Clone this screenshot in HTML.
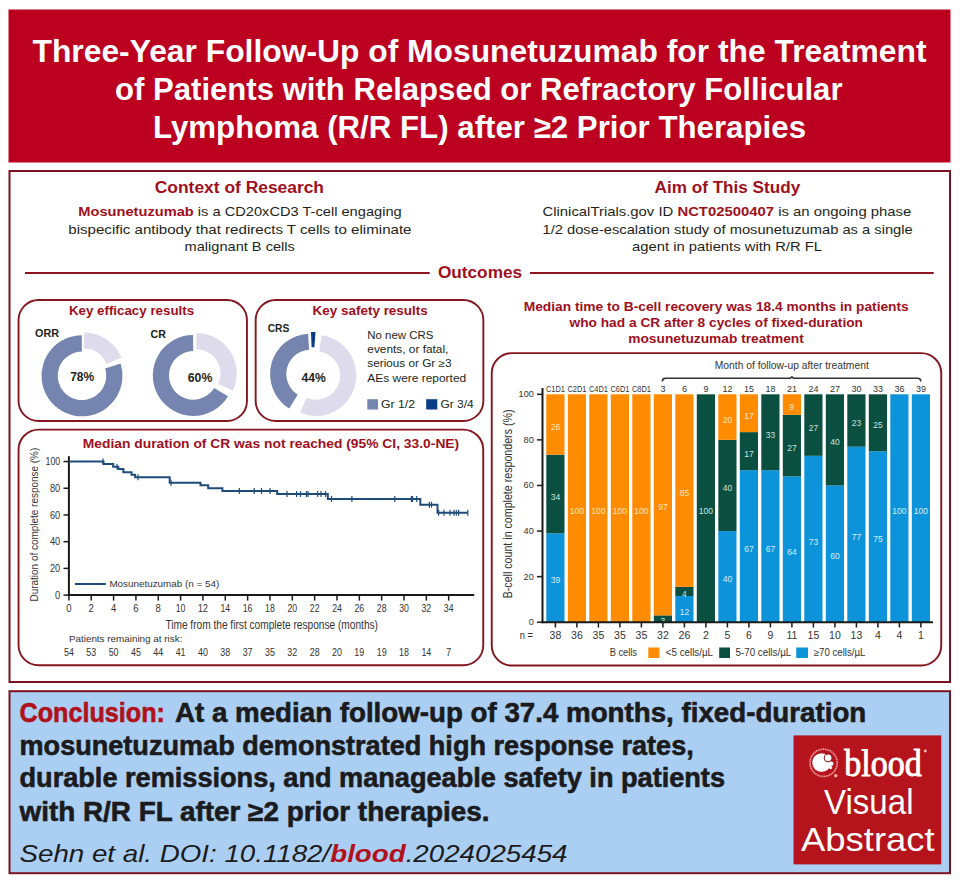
<!DOCTYPE html>
<html><head><meta charset="utf-8"><title>Visual Abstract</title>
<style>html,body{margin:0;padding:0;background:#ffffff;}svg{display:block;}</style></head>
<body><svg width="960" height="884" viewBox="0 0 960 884">
<rect x="8.50" y="9.50" width="942.00" height="153.00" fill="#bb0020"/>
<text x="32.50" y="61.50" font-size="32" font-weight="bold" font-style="normal" font-family="&quot;Liberation Sans&quot;, sans-serif" fill="#ffffff" text-anchor="start" textLength="894.00" lengthAdjust="spacingAndGlyphs">Three-Year Follow-Up of Mosunetuzumab for the Treatment</text>
<text x="115.00" y="99.50" font-size="32" font-weight="bold" font-style="normal" font-family="&quot;Liberation Sans&quot;, sans-serif" fill="#ffffff" text-anchor="start" textLength="727.50" lengthAdjust="spacingAndGlyphs">of Patients with Relapsed or Refractory Follicular</text>
<text x="153.00" y="137.50" font-size="32" font-weight="bold" font-style="normal" font-family="&quot;Liberation Sans&quot;, sans-serif" fill="#ffffff" text-anchor="start" textLength="653.00" lengthAdjust="spacingAndGlyphs">Lymphoma (R/R FL) after ≥2 Prior Therapies</text>
<rect x="9.5" y="171" width="940.5" height="511" fill="#ffffff" stroke="#7a1222" stroke-width="2"/>
<text x="154.80" y="193.30" font-size="16" font-weight="bold" font-style="normal" font-family="&quot;Liberation Sans&quot;, sans-serif" fill="#9e0f1d" text-anchor="start" textLength="169.20" lengthAdjust="spacingAndGlyphs">Context of Research</text>
<text x="78.3" y="215.9" font-size="13.2" font-family="&quot;Liberation Sans&quot;, sans-serif" fill="#231f20" textLength="323.40" lengthAdjust="spacingAndGlyphs"><tspan font-weight="bold" fill="#9e0f1d">Mosunetuzumab</tspan> is a CD20xCD3 T-cell engaging</text>
<text x="68.30" y="233.60" font-size="13.2" font-weight="normal" font-style="normal" font-family="&quot;Liberation Sans&quot;, sans-serif" fill="#231f20" text-anchor="start" textLength="343.20" lengthAdjust="spacingAndGlyphs">bispecific antibody that redirects T cells to eliminate</text>
<text x="184.60" y="251.30" font-size="13.2" font-weight="normal" font-style="normal" font-family="&quot;Liberation Sans&quot;, sans-serif" fill="#231f20" text-anchor="start" textLength="110.20" lengthAdjust="spacingAndGlyphs">malignant B cells</text>
<text x="654.60" y="193.30" font-size="16" font-weight="bold" font-style="normal" font-family="&quot;Liberation Sans&quot;, sans-serif" fill="#9e0f1d" text-anchor="start" textLength="145.60" lengthAdjust="spacingAndGlyphs">Aim of This Study</text>
<text x="542.5" y="215.9" font-size="13.2" font-family="&quot;Liberation Sans&quot;, sans-serif" fill="#231f20" textLength="368.80" lengthAdjust="spacingAndGlyphs">ClinicalTrials.gov ID <tspan font-weight="bold" fill="#9e0f1d">NCT02500407</tspan> is an ongoing phase</text>
<text x="542.50" y="233.60" font-size="13.2" font-weight="normal" font-style="normal" font-family="&quot;Liberation Sans&quot;, sans-serif" fill="#231f20" text-anchor="start" textLength="370.20" lengthAdjust="spacingAndGlyphs">1/2 dose-escalation study of mosunetuzumab as a single</text>
<text x="632.00" y="251.30" font-size="13.2" font-weight="normal" font-style="normal" font-family="&quot;Liberation Sans&quot;, sans-serif" fill="#231f20" text-anchor="start" textLength="190.00" lengthAdjust="spacingAndGlyphs">agent in patients with R/R FL</text>
<rect x="25.00" y="272.00" width="404.70" height="2.00" fill="#8e1420"/>
<rect x="530.00" y="272.00" width="403.70" height="2.00" fill="#8e1420"/>
<text x="437.90" y="277.60" font-size="16.5" font-weight="bold" font-style="normal" font-family="&quot;Liberation Sans&quot;, sans-serif" fill="#9e0f1d" text-anchor="start" textLength="84.20" lengthAdjust="spacingAndGlyphs">Outcomes</text>
<rect x="18.55" y="300.05" width="228.40" height="121.00" rx="20" ry="20" fill="#ffffff" stroke="#84161f" stroke-width="1.9"/>
<rect x="255.65" y="300.05" width="227.70" height="121.00" rx="20" ry="20" fill="#ffffff" stroke="#84161f" stroke-width="1.9"/>
<rect x="18.55" y="429.65" width="464.70" height="235.60" rx="20" ry="20" fill="#ffffff" stroke="#84161f" stroke-width="1.9"/>
<rect x="491.75" y="353.15" width="449.50" height="312.40" rx="20" ry="20" fill="#ffffff" stroke="#84161f" stroke-width="1.9"/>
<text x="68.90" y="315.20" font-size="13.3" font-weight="bold" font-style="normal" font-family="&quot;Liberation Sans&quot;, sans-serif" fill="#9e0f1d" text-anchor="start" textLength="125.20" lengthAdjust="spacingAndGlyphs">Key efficacy results</text>
<text x="35.00" y="337.00" font-size="10.5" font-weight="bold" font-style="normal" font-family="&quot;Liberation Sans&quot;, sans-serif" fill="#231f20" text-anchor="start" textLength="24.00" lengthAdjust="spacingAndGlyphs">ORR</text>
<path d="M84.18,332.40 A40.5,40.5 0 0 1 121.52,357.73 L106.50,363.80 A24.3,24.3 0 0 0 84.09,348.60 Z" fill="#dedcec"/>
<path d="M120.63,363.62 A40.5,40.5 0 1 1 81.79,335.30 L81.87,351.50 A24.3,24.3 0 1 0 105.18,368.49 Z" fill="#7685b0"/>
<text x="70.20" y="381.00" font-size="12" font-weight="bold" font-style="normal" font-family="&quot;Liberation Sans&quot;, sans-serif" fill="#231f20" text-anchor="start" textLength="24.00" lengthAdjust="spacingAndGlyphs">78%</text>
<text x="150.60" y="338.30" font-size="10.5" font-weight="bold" font-style="normal" font-family="&quot;Liberation Sans&quot;, sans-serif" fill="#231f20" text-anchor="start" textLength="15.40" lengthAdjust="spacingAndGlyphs">CR</text>
<path d="M196.47,333.03 A40.5,40.5 0 0 1 232.96,390.64 L218.28,383.80 A24.3,24.3 0 0 0 196.38,349.23 Z" fill="#dedcec"/>
<path d="M228.02,396.26 A40.5,40.5 0 1 1 193.09,334.90 L193.17,351.10 A24.3,24.3 0 1 0 214.13,387.92 Z" fill="#7685b0"/>
<text x="187.80" y="381.80" font-size="12" font-weight="bold" font-style="normal" font-family="&quot;Liberation Sans&quot;, sans-serif" fill="#231f20" text-anchor="start" textLength="24.50" lengthAdjust="spacingAndGlyphs">60%</text>
<text x="312.50" y="315.20" font-size="13.3" font-weight="bold" font-style="normal" font-family="&quot;Liberation Sans&quot;, sans-serif" fill="#9e0f1d" text-anchor="start" textLength="115.30" lengthAdjust="spacingAndGlyphs">Key safety results</text>
<text x="267.70" y="332.40" font-size="10.5" font-weight="bold" font-style="normal" font-family="&quot;Liberation Sans&quot;, sans-serif" fill="#231f20" text-anchor="start" textLength="21.60" lengthAdjust="spacingAndGlyphs">CRS</text>
<path d="M289.13,408.41 A40.5,40.5 0 0 1 308.12,333.64 L309.11,349.81 A24.3,24.3 0 0 0 297.72,394.67 Z" fill="#7685b0"/>
<path d="M321.55,335.36 A40.5,40.5 0 1 1 300.08,412.75 L306.41,397.84 A24.3,24.3 0 1 0 319.29,351.40 Z" fill="#dedcec"/>
<path d="M311,332 L315.5,332 L314.4,347.2 L311.6,347.2 Z" fill="#0a3d86"/>
<text x="301.40" y="381.80" font-size="12" font-weight="bold" font-style="normal" font-family="&quot;Liberation Sans&quot;, sans-serif" fill="#231f20" text-anchor="start" textLength="24.30" lengthAdjust="spacingAndGlyphs">44%</text>
<text x="367.30" y="339.00" font-size="10.5" font-weight="normal" font-style="normal" font-family="&quot;Liberation Sans&quot;, sans-serif" fill="#231f20" text-anchor="start" textLength="66.00" lengthAdjust="spacingAndGlyphs">No new CRS</text>
<text x="367.30" y="353.30" font-size="10.5" font-weight="normal" font-style="normal" font-family="&quot;Liberation Sans&quot;, sans-serif" fill="#231f20" text-anchor="start" textLength="81.10" lengthAdjust="spacingAndGlyphs">events, or fatal,</text>
<text x="367.30" y="367.30" font-size="10.5" font-weight="normal" font-style="normal" font-family="&quot;Liberation Sans&quot;, sans-serif" fill="#231f20" text-anchor="start" textLength="84.20" lengthAdjust="spacingAndGlyphs">serious or Gr ≥3</text>
<text x="367.30" y="381.50" font-size="10.5" font-weight="normal" font-style="normal" font-family="&quot;Liberation Sans&quot;, sans-serif" fill="#231f20" text-anchor="start" textLength="98.90" lengthAdjust="spacingAndGlyphs">AEs were reported</text>
<rect x="367.30" y="399.20" width="10.70" height="10.30" fill="#7685b0"/>
<text x="381.00" y="408.00" font-size="10.5" font-weight="normal" font-style="normal" font-family="&quot;Liberation Sans&quot;, sans-serif" fill="#231f20" text-anchor="start" textLength="34.00" lengthAdjust="spacingAndGlyphs">Gr 1/2</text>
<rect x="426.20" y="399.20" width="11.10" height="10.30" fill="#0a3d86"/>
<text x="440.40" y="408.00" font-size="10.5" font-weight="normal" font-style="normal" font-family="&quot;Liberation Sans&quot;, sans-serif" fill="#231f20" text-anchor="start" textLength="33.30" lengthAdjust="spacingAndGlyphs">Gr 3/4</text>
<text x="82.80" y="448.30" font-size="12.9" font-weight="bold" font-style="normal" font-family="&quot;Liberation Sans&quot;, sans-serif" fill="#9e0f1d" text-anchor="start" textLength="376.40" lengthAdjust="spacingAndGlyphs">Median duration of CR was not reached (95% CI, 33.0-NE)</text>
<line x1="68.9" y1="456.19" x2="68.9" y2="596.10" stroke="#1a1a1a" stroke-width="2"/>
<line x1="67.9" y1="595.1" x2="474.2" y2="595.1" stroke="#1a1a1a" stroke-width="2"/>
<line x1="63.5" y1="595.10" x2="68.9" y2="595.10" stroke="#1a1a1a" stroke-width="1.5"/>
<text x="60.20" y="598.70" font-size="10.4" font-weight="normal" font-style="normal" font-family="&quot;Liberation Sans&quot;, sans-serif" fill="#333333" text-anchor="end" textLength="5.20" lengthAdjust="spacingAndGlyphs">0</text>
<line x1="63.5" y1="568.39" x2="68.9" y2="568.39" stroke="#1a1a1a" stroke-width="1.5"/>
<text x="60.20" y="571.99" font-size="10.4" font-weight="normal" font-style="normal" font-family="&quot;Liberation Sans&quot;, sans-serif" fill="#333333" text-anchor="end" textLength="10.20" lengthAdjust="spacingAndGlyphs">20</text>
<line x1="63.5" y1="541.67" x2="68.9" y2="541.67" stroke="#1a1a1a" stroke-width="1.5"/>
<text x="60.20" y="545.27" font-size="10.4" font-weight="normal" font-style="normal" font-family="&quot;Liberation Sans&quot;, sans-serif" fill="#333333" text-anchor="end" textLength="10.20" lengthAdjust="spacingAndGlyphs">40</text>
<line x1="63.5" y1="514.96" x2="68.9" y2="514.96" stroke="#1a1a1a" stroke-width="1.5"/>
<text x="60.20" y="518.56" font-size="10.4" font-weight="normal" font-style="normal" font-family="&quot;Liberation Sans&quot;, sans-serif" fill="#333333" text-anchor="end" textLength="10.20" lengthAdjust="spacingAndGlyphs">60</text>
<line x1="63.5" y1="488.24" x2="68.9" y2="488.24" stroke="#1a1a1a" stroke-width="1.5"/>
<text x="60.20" y="491.84" font-size="10.4" font-weight="normal" font-style="normal" font-family="&quot;Liberation Sans&quot;, sans-serif" fill="#333333" text-anchor="end" textLength="10.20" lengthAdjust="spacingAndGlyphs">80</text>
<line x1="63.5" y1="461.53" x2="68.9" y2="461.53" stroke="#1a1a1a" stroke-width="1.5"/>
<text x="60.20" y="465.13" font-size="10.4" font-weight="normal" font-style="normal" font-family="&quot;Liberation Sans&quot;, sans-serif" fill="#333333" text-anchor="end" textLength="14.70" lengthAdjust="spacingAndGlyphs">100</text>
<line x1="68.90" y1="595.1" x2="68.90" y2="600.6" stroke="#1a1a1a" stroke-width="1.5"/>
<text x="68.90" y="612.30" font-size="10.8" font-weight="normal" font-style="normal" font-family="&quot;Liberation Sans&quot;, sans-serif" fill="#333333" text-anchor="middle" textLength="5.30" lengthAdjust="spacingAndGlyphs">0</text>
<line x1="91.24" y1="595.1" x2="91.24" y2="600.6" stroke="#1a1a1a" stroke-width="1.5"/>
<text x="91.24" y="612.30" font-size="10.8" font-weight="normal" font-style="normal" font-family="&quot;Liberation Sans&quot;, sans-serif" fill="#333333" text-anchor="middle" textLength="5.30" lengthAdjust="spacingAndGlyphs">2</text>
<line x1="113.58" y1="595.1" x2="113.58" y2="600.6" stroke="#1a1a1a" stroke-width="1.5"/>
<text x="113.58" y="612.30" font-size="10.8" font-weight="normal" font-style="normal" font-family="&quot;Liberation Sans&quot;, sans-serif" fill="#333333" text-anchor="middle" textLength="5.30" lengthAdjust="spacingAndGlyphs">4</text>
<line x1="135.92" y1="595.1" x2="135.92" y2="600.6" stroke="#1a1a1a" stroke-width="1.5"/>
<text x="135.92" y="612.30" font-size="10.8" font-weight="normal" font-style="normal" font-family="&quot;Liberation Sans&quot;, sans-serif" fill="#333333" text-anchor="middle" textLength="5.30" lengthAdjust="spacingAndGlyphs">6</text>
<line x1="158.26" y1="595.1" x2="158.26" y2="600.6" stroke="#1a1a1a" stroke-width="1.5"/>
<text x="158.26" y="612.30" font-size="10.8" font-weight="normal" font-style="normal" font-family="&quot;Liberation Sans&quot;, sans-serif" fill="#333333" text-anchor="middle" textLength="5.30" lengthAdjust="spacingAndGlyphs">8</text>
<line x1="180.60" y1="595.1" x2="180.60" y2="600.6" stroke="#1a1a1a" stroke-width="1.5"/>
<text x="180.60" y="612.30" font-size="10.8" font-weight="normal" font-style="normal" font-family="&quot;Liberation Sans&quot;, sans-serif" fill="#333333" text-anchor="middle" textLength="9.70" lengthAdjust="spacingAndGlyphs">10</text>
<line x1="202.94" y1="595.1" x2="202.94" y2="600.6" stroke="#1a1a1a" stroke-width="1.5"/>
<text x="202.94" y="612.30" font-size="10.8" font-weight="normal" font-style="normal" font-family="&quot;Liberation Sans&quot;, sans-serif" fill="#333333" text-anchor="middle" textLength="9.70" lengthAdjust="spacingAndGlyphs">12</text>
<line x1="225.28" y1="595.1" x2="225.28" y2="600.6" stroke="#1a1a1a" stroke-width="1.5"/>
<text x="225.28" y="612.30" font-size="10.8" font-weight="normal" font-style="normal" font-family="&quot;Liberation Sans&quot;, sans-serif" fill="#333333" text-anchor="middle" textLength="9.70" lengthAdjust="spacingAndGlyphs">14</text>
<line x1="247.62" y1="595.1" x2="247.62" y2="600.6" stroke="#1a1a1a" stroke-width="1.5"/>
<text x="247.62" y="612.30" font-size="10.8" font-weight="normal" font-style="normal" font-family="&quot;Liberation Sans&quot;, sans-serif" fill="#333333" text-anchor="middle" textLength="9.70" lengthAdjust="spacingAndGlyphs">16</text>
<line x1="269.96" y1="595.1" x2="269.96" y2="600.6" stroke="#1a1a1a" stroke-width="1.5"/>
<text x="269.96" y="612.30" font-size="10.8" font-weight="normal" font-style="normal" font-family="&quot;Liberation Sans&quot;, sans-serif" fill="#333333" text-anchor="middle" textLength="9.70" lengthAdjust="spacingAndGlyphs">18</text>
<line x1="292.30" y1="595.1" x2="292.30" y2="600.6" stroke="#1a1a1a" stroke-width="1.5"/>
<text x="292.30" y="612.30" font-size="10.8" font-weight="normal" font-style="normal" font-family="&quot;Liberation Sans&quot;, sans-serif" fill="#333333" text-anchor="middle" textLength="9.70" lengthAdjust="spacingAndGlyphs">20</text>
<line x1="314.64" y1="595.1" x2="314.64" y2="600.6" stroke="#1a1a1a" stroke-width="1.5"/>
<text x="314.64" y="612.30" font-size="10.8" font-weight="normal" font-style="normal" font-family="&quot;Liberation Sans&quot;, sans-serif" fill="#333333" text-anchor="middle" textLength="9.70" lengthAdjust="spacingAndGlyphs">22</text>
<line x1="336.98" y1="595.1" x2="336.98" y2="600.6" stroke="#1a1a1a" stroke-width="1.5"/>
<text x="336.98" y="612.30" font-size="10.8" font-weight="normal" font-style="normal" font-family="&quot;Liberation Sans&quot;, sans-serif" fill="#333333" text-anchor="middle" textLength="9.70" lengthAdjust="spacingAndGlyphs">24</text>
<line x1="359.32" y1="595.1" x2="359.32" y2="600.6" stroke="#1a1a1a" stroke-width="1.5"/>
<text x="359.32" y="612.30" font-size="10.8" font-weight="normal" font-style="normal" font-family="&quot;Liberation Sans&quot;, sans-serif" fill="#333333" text-anchor="middle" textLength="9.70" lengthAdjust="spacingAndGlyphs">26</text>
<line x1="381.66" y1="595.1" x2="381.66" y2="600.6" stroke="#1a1a1a" stroke-width="1.5"/>
<text x="381.66" y="612.30" font-size="10.8" font-weight="normal" font-style="normal" font-family="&quot;Liberation Sans&quot;, sans-serif" fill="#333333" text-anchor="middle" textLength="9.70" lengthAdjust="spacingAndGlyphs">28</text>
<line x1="404.00" y1="595.1" x2="404.00" y2="600.6" stroke="#1a1a1a" stroke-width="1.5"/>
<text x="404.00" y="612.30" font-size="10.8" font-weight="normal" font-style="normal" font-family="&quot;Liberation Sans&quot;, sans-serif" fill="#333333" text-anchor="middle" textLength="9.70" lengthAdjust="spacingAndGlyphs">30</text>
<line x1="426.34" y1="595.1" x2="426.34" y2="600.6" stroke="#1a1a1a" stroke-width="1.5"/>
<text x="426.34" y="612.30" font-size="10.8" font-weight="normal" font-style="normal" font-family="&quot;Liberation Sans&quot;, sans-serif" fill="#333333" text-anchor="middle" textLength="9.70" lengthAdjust="spacingAndGlyphs">32</text>
<line x1="448.68" y1="595.1" x2="448.68" y2="600.6" stroke="#1a1a1a" stroke-width="1.5"/>
<text x="448.68" y="612.30" font-size="10.8" font-weight="normal" font-style="normal" font-family="&quot;Liberation Sans&quot;, sans-serif" fill="#333333" text-anchor="middle" textLength="9.70" lengthAdjust="spacingAndGlyphs">34</text>
<text x="165.40" y="628.70" font-size="12.5" font-weight="normal" font-style="normal" font-family="&quot;Liberation Sans&quot;, sans-serif" fill="#333333" text-anchor="start" textLength="212.60" lengthAdjust="spacingAndGlyphs">Time from the first complete response (months)</text>
<text transform="translate(37.6,601.5) rotate(-90)" x="0" y="0" font-size="11.8" font-family="&quot;Liberation Sans&quot;, sans-serif" fill="#333333" textLength="153.8" lengthAdjust="spacingAndGlyphs">Duration of complete response (%)</text>
<line x1="74.9" y1="584" x2="105.8" y2="584" stroke="#1f4b7a" stroke-width="2"/>
<text x="109.40" y="587.00" font-size="9.5" font-weight="normal" font-style="normal" font-family="&quot;Liberation Sans&quot;, sans-serif" fill="#333333" text-anchor="start" textLength="109.80" lengthAdjust="spacingAndGlyphs">Mosunetuzumab (n = 54)</text>
<text x="68.90" y="642.40" font-size="9.8" font-weight="normal" font-style="normal" font-family="&quot;Liberation Sans&quot;, sans-serif" fill="#333333" text-anchor="start" textLength="113.50" lengthAdjust="spacingAndGlyphs">Patients remaining at risk:</text>
<text x="68.90" y="655.80" font-size="11" font-weight="normal" font-style="normal" font-family="&quot;Liberation Sans&quot;, sans-serif" fill="#333333" text-anchor="middle" textLength="9.90" lengthAdjust="spacingAndGlyphs">54</text>
<text x="91.24" y="655.80" font-size="11" font-weight="normal" font-style="normal" font-family="&quot;Liberation Sans&quot;, sans-serif" fill="#333333" text-anchor="middle" textLength="9.90" lengthAdjust="spacingAndGlyphs">53</text>
<text x="113.58" y="655.80" font-size="11" font-weight="normal" font-style="normal" font-family="&quot;Liberation Sans&quot;, sans-serif" fill="#333333" text-anchor="middle" textLength="9.90" lengthAdjust="spacingAndGlyphs">50</text>
<text x="135.92" y="655.80" font-size="11" font-weight="normal" font-style="normal" font-family="&quot;Liberation Sans&quot;, sans-serif" fill="#333333" text-anchor="middle" textLength="9.90" lengthAdjust="spacingAndGlyphs">45</text>
<text x="158.26" y="655.80" font-size="11" font-weight="normal" font-style="normal" font-family="&quot;Liberation Sans&quot;, sans-serif" fill="#333333" text-anchor="middle" textLength="9.90" lengthAdjust="spacingAndGlyphs">44</text>
<text x="180.60" y="655.80" font-size="11" font-weight="normal" font-style="normal" font-family="&quot;Liberation Sans&quot;, sans-serif" fill="#333333" text-anchor="middle" textLength="9.90" lengthAdjust="spacingAndGlyphs">41</text>
<text x="202.94" y="655.80" font-size="11" font-weight="normal" font-style="normal" font-family="&quot;Liberation Sans&quot;, sans-serif" fill="#333333" text-anchor="middle" textLength="9.90" lengthAdjust="spacingAndGlyphs">40</text>
<text x="225.28" y="655.80" font-size="11" font-weight="normal" font-style="normal" font-family="&quot;Liberation Sans&quot;, sans-serif" fill="#333333" text-anchor="middle" textLength="9.90" lengthAdjust="spacingAndGlyphs">38</text>
<text x="247.62" y="655.80" font-size="11" font-weight="normal" font-style="normal" font-family="&quot;Liberation Sans&quot;, sans-serif" fill="#333333" text-anchor="middle" textLength="9.90" lengthAdjust="spacingAndGlyphs">37</text>
<text x="269.96" y="655.80" font-size="11" font-weight="normal" font-style="normal" font-family="&quot;Liberation Sans&quot;, sans-serif" fill="#333333" text-anchor="middle" textLength="9.90" lengthAdjust="spacingAndGlyphs">35</text>
<text x="292.30" y="655.80" font-size="11" font-weight="normal" font-style="normal" font-family="&quot;Liberation Sans&quot;, sans-serif" fill="#333333" text-anchor="middle" textLength="9.90" lengthAdjust="spacingAndGlyphs">32</text>
<text x="314.64" y="655.80" font-size="11" font-weight="normal" font-style="normal" font-family="&quot;Liberation Sans&quot;, sans-serif" fill="#333333" text-anchor="middle" textLength="9.90" lengthAdjust="spacingAndGlyphs">28</text>
<text x="336.98" y="655.80" font-size="11" font-weight="normal" font-style="normal" font-family="&quot;Liberation Sans&quot;, sans-serif" fill="#333333" text-anchor="middle" textLength="9.90" lengthAdjust="spacingAndGlyphs">20</text>
<text x="359.32" y="655.80" font-size="11" font-weight="normal" font-style="normal" font-family="&quot;Liberation Sans&quot;, sans-serif" fill="#333333" text-anchor="middle" textLength="9.90" lengthAdjust="spacingAndGlyphs">19</text>
<text x="381.66" y="655.80" font-size="11" font-weight="normal" font-style="normal" font-family="&quot;Liberation Sans&quot;, sans-serif" fill="#333333" text-anchor="middle" textLength="9.90" lengthAdjust="spacingAndGlyphs">19</text>
<text x="404.00" y="655.80" font-size="11" font-weight="normal" font-style="normal" font-family="&quot;Liberation Sans&quot;, sans-serif" fill="#333333" text-anchor="middle" textLength="9.90" lengthAdjust="spacingAndGlyphs">18</text>
<text x="426.34" y="655.80" font-size="11" font-weight="normal" font-style="normal" font-family="&quot;Liberation Sans&quot;, sans-serif" fill="#333333" text-anchor="middle" textLength="9.90" lengthAdjust="spacingAndGlyphs">14</text>
<text x="448.68" y="655.80" font-size="11" font-weight="normal" font-style="normal" font-family="&quot;Liberation Sans&quot;, sans-serif" fill="#333333" text-anchor="middle" textLength="5.20" lengthAdjust="spacingAndGlyphs">7</text>
<path d="M68.9,461.53 H103.5 V464.1 H113.2 V466.8 H118.3 V469 H123.4 V472.2 H131.5 V474.8 H135.1 V477.3 H169.7 V482.8 H200.5 V485.3 H208.2 V488.2 H222.4 V490.9 H277.2 V494.1 H327.8 V498.9 H420.3 V504.7 H437.5 V512.8 H467.8" fill="none" stroke="#1f4b7a" stroke-width="2"/>
<line x1="103" y1="458.53" x2="103" y2="464.53" stroke="#1f4b7a" stroke-width="1.2"/>
<line x1="117" y1="463.8" x2="117" y2="469.8" stroke="#1f4b7a" stroke-width="1.2"/>
<line x1="138" y1="474.3" x2="138" y2="480.3" stroke="#1f4b7a" stroke-width="1.2"/>
<line x1="171" y1="479.8" x2="171" y2="485.8" stroke="#1f4b7a" stroke-width="1.2"/>
<line x1="239.3" y1="487.9" x2="239.3" y2="493.9" stroke="#1f4b7a" stroke-width="1.2"/>
<line x1="254.2" y1="487.9" x2="254.2" y2="493.9" stroke="#1f4b7a" stroke-width="1.2"/>
<line x1="261.5" y1="487.9" x2="261.5" y2="493.9" stroke="#1f4b7a" stroke-width="1.2"/>
<line x1="270" y1="487.9" x2="270" y2="493.9" stroke="#1f4b7a" stroke-width="1.2"/>
<line x1="287" y1="491.1" x2="287" y2="497.1" stroke="#1f4b7a" stroke-width="1.2"/>
<line x1="296.6" y1="491.1" x2="296.6" y2="497.1" stroke="#1f4b7a" stroke-width="1.2"/>
<line x1="300.5" y1="491.1" x2="300.5" y2="497.1" stroke="#1f4b7a" stroke-width="1.2"/>
<line x1="306.5" y1="491.1" x2="306.5" y2="497.1" stroke="#1f4b7a" stroke-width="1.2"/>
<line x1="308" y1="491.1" x2="308" y2="497.1" stroke="#1f4b7a" stroke-width="1.2"/>
<line x1="317.7" y1="491.1" x2="317.7" y2="497.1" stroke="#1f4b7a" stroke-width="1.2"/>
<line x1="321" y1="491.1" x2="321" y2="497.1" stroke="#1f4b7a" stroke-width="1.2"/>
<line x1="325.5" y1="491.1" x2="325.5" y2="497.1" stroke="#1f4b7a" stroke-width="1.2"/>
<line x1="331.5" y1="495.9" x2="331.5" y2="501.9" stroke="#1f4b7a" stroke-width="1.2"/>
<line x1="351.9" y1="495.9" x2="351.9" y2="501.9" stroke="#1f4b7a" stroke-width="1.2"/>
<line x1="394.8" y1="495.9" x2="394.8" y2="501.9" stroke="#1f4b7a" stroke-width="1.2"/>
<line x1="411.4" y1="495.9" x2="411.4" y2="501.9" stroke="#1f4b7a" stroke-width="1.2"/>
<line x1="412.5" y1="495.9" x2="412.5" y2="501.9" stroke="#1f4b7a" stroke-width="1.2"/>
<line x1="416.7" y1="495.9" x2="416.7" y2="501.9" stroke="#1f4b7a" stroke-width="1.2"/>
<line x1="429.4" y1="501.7" x2="429.4" y2="507.7" stroke="#1f4b7a" stroke-width="1.2"/>
<line x1="431.5" y1="501.7" x2="431.5" y2="507.7" stroke="#1f4b7a" stroke-width="1.2"/>
<line x1="438.6" y1="509.79999999999995" x2="438.6" y2="515.8" stroke="#1f4b7a" stroke-width="1.2"/>
<line x1="443.9" y1="509.79999999999995" x2="443.9" y2="515.8" stroke="#1f4b7a" stroke-width="1.2"/>
<line x1="450" y1="509.79999999999995" x2="450" y2="515.8" stroke="#1f4b7a" stroke-width="1.2"/>
<line x1="453.9" y1="509.79999999999995" x2="453.9" y2="515.8" stroke="#1f4b7a" stroke-width="1.2"/>
<line x1="456.3" y1="509.79999999999995" x2="456.3" y2="515.8" stroke="#1f4b7a" stroke-width="1.2"/>
<line x1="458.6" y1="509.79999999999995" x2="458.6" y2="515.8" stroke="#1f4b7a" stroke-width="1.2"/>
<line x1="467.8" y1="509.79999999999995" x2="467.8" y2="515.8" stroke="#1f4b7a" stroke-width="1.2"/>
<text x="523.75" y="310.50" font-size="13.4" font-weight="bold" font-style="normal" font-family="&quot;Liberation Sans&quot;, sans-serif" fill="#9e0f1d" text-anchor="start" textLength="385.00" lengthAdjust="spacingAndGlyphs">Median time to B-cell recovery was 18.4 months in patients</text>
<text x="569.50" y="327.00" font-size="13.4" font-weight="bold" font-style="normal" font-family="&quot;Liberation Sans&quot;, sans-serif" fill="#9e0f1d" text-anchor="start" textLength="293.50" lengthAdjust="spacingAndGlyphs">who had a CR after 8 cycles of fixed-duration</text>
<text x="628.25" y="343.25" font-size="13.4" font-weight="bold" font-style="normal" font-family="&quot;Liberation Sans&quot;, sans-serif" fill="#9e0f1d" text-anchor="start" textLength="175.50" lengthAdjust="spacingAndGlyphs">mosunetuzumab treatment</text>
<path d="M662.3,381.5 Q662.3,378.2 665.5,378.2 H790 L791.9,377 L793.8,378.2 H917.5 Q920.8,378.2 920.8,381.5" fill="none" stroke="#333333" stroke-width="1.6"/>
<text x="714.75" y="369.00" font-size="10.6" font-weight="normal" font-style="normal" font-family="&quot;Liberation Sans&quot;, sans-serif" fill="#333333" text-anchor="start" textLength="154.00" lengthAdjust="spacingAndGlyphs">Month of follow-up after treatment</text>
<rect x="546.30" y="533.32" width="18.20" height="88.88" fill="#0d93d9"/>
<rect x="546.30" y="454.69" width="18.20" height="78.63" fill="#0a4f40"/>
<rect x="546.30" y="394.30" width="18.20" height="60.39" fill="#ff8b00"/>
<text x="555.40" y="583.26" font-size="8.5" font-weight="normal" font-style="normal" font-family="&quot;Liberation Sans&quot;, sans-serif" fill="#d6eefa" text-anchor="middle">39</text>
<text x="555.40" y="499.51" font-size="8.5" font-weight="normal" font-style="normal" font-family="&quot;Liberation Sans&quot;, sans-serif" fill="#cfe3dc" text-anchor="middle">34</text>
<text x="555.40" y="430.00" font-size="8.5" font-weight="normal" font-style="normal" font-family="&quot;Liberation Sans&quot;, sans-serif" fill="#ffe6c4" text-anchor="middle">26</text>
<text x="555.40" y="391.80" font-size="9" font-weight="normal" font-style="normal" font-family="&quot;Liberation Sans&quot;, sans-serif" fill="#333333" text-anchor="middle" textLength="19.00" lengthAdjust="spacingAndGlyphs">C1D1</text>
<line x1="555.40" y1="622.2" x2="555.40" y2="627.5" stroke="#1a1a1a" stroke-width="1.5"/>
<text x="555.40" y="639.30" font-size="10.5" font-weight="normal" font-style="normal" font-family="&quot;Liberation Sans&quot;, sans-serif" fill="#333333" text-anchor="middle">38</text>
<rect x="567.80" y="394.30" width="18.20" height="227.90" fill="#ff8b00"/>
<text x="576.90" y="513.75" font-size="8.5" font-weight="normal" font-style="normal" font-family="&quot;Liberation Sans&quot;, sans-serif" fill="#ffe6c4" text-anchor="middle">100</text>
<text x="576.90" y="391.80" font-size="9" font-weight="normal" font-style="normal" font-family="&quot;Liberation Sans&quot;, sans-serif" fill="#333333" text-anchor="middle" textLength="19.00" lengthAdjust="spacingAndGlyphs">C2D1</text>
<line x1="576.90" y1="622.2" x2="576.90" y2="627.5" stroke="#1a1a1a" stroke-width="1.5"/>
<text x="576.90" y="639.30" font-size="10.5" font-weight="normal" font-style="normal" font-family="&quot;Liberation Sans&quot;, sans-serif" fill="#333333" text-anchor="middle">36</text>
<rect x="589.30" y="394.30" width="18.20" height="227.90" fill="#ff8b00"/>
<text x="598.40" y="513.75" font-size="8.5" font-weight="normal" font-style="normal" font-family="&quot;Liberation Sans&quot;, sans-serif" fill="#ffe6c4" text-anchor="middle">100</text>
<text x="598.40" y="391.80" font-size="9" font-weight="normal" font-style="normal" font-family="&quot;Liberation Sans&quot;, sans-serif" fill="#333333" text-anchor="middle" textLength="19.00" lengthAdjust="spacingAndGlyphs">C4D1</text>
<line x1="598.40" y1="622.2" x2="598.40" y2="627.5" stroke="#1a1a1a" stroke-width="1.5"/>
<text x="598.40" y="639.30" font-size="10.5" font-weight="normal" font-style="normal" font-family="&quot;Liberation Sans&quot;, sans-serif" fill="#333333" text-anchor="middle">35</text>
<rect x="610.80" y="394.30" width="18.20" height="227.90" fill="#ff8b00"/>
<text x="619.90" y="513.75" font-size="8.5" font-weight="normal" font-style="normal" font-family="&quot;Liberation Sans&quot;, sans-serif" fill="#ffe6c4" text-anchor="middle">100</text>
<text x="619.90" y="391.80" font-size="9" font-weight="normal" font-style="normal" font-family="&quot;Liberation Sans&quot;, sans-serif" fill="#333333" text-anchor="middle" textLength="19.00" lengthAdjust="spacingAndGlyphs">C6D1</text>
<line x1="619.90" y1="622.2" x2="619.90" y2="627.5" stroke="#1a1a1a" stroke-width="1.5"/>
<text x="619.90" y="639.30" font-size="10.5" font-weight="normal" font-style="normal" font-family="&quot;Liberation Sans&quot;, sans-serif" fill="#333333" text-anchor="middle">35</text>
<rect x="632.30" y="394.30" width="18.20" height="227.90" fill="#ff8b00"/>
<text x="641.40" y="513.75" font-size="8.5" font-weight="normal" font-style="normal" font-family="&quot;Liberation Sans&quot;, sans-serif" fill="#ffe6c4" text-anchor="middle">100</text>
<text x="641.40" y="391.80" font-size="9" font-weight="normal" font-style="normal" font-family="&quot;Liberation Sans&quot;, sans-serif" fill="#333333" text-anchor="middle" textLength="19.00" lengthAdjust="spacingAndGlyphs">C8D1</text>
<line x1="641.40" y1="622.2" x2="641.40" y2="627.5" stroke="#1a1a1a" stroke-width="1.5"/>
<text x="641.40" y="639.30" font-size="10.5" font-weight="normal" font-style="normal" font-family="&quot;Liberation Sans&quot;, sans-serif" fill="#333333" text-anchor="middle">35</text>
<rect x="653.80" y="615.36" width="18.20" height="6.84" fill="#0a4f40"/>
<rect x="653.80" y="394.30" width="18.20" height="221.06" fill="#ff8b00"/>
<text x="662.90" y="624.28" font-size="8.5" font-weight="normal" font-style="normal" font-family="&quot;Liberation Sans&quot;, sans-serif" fill="#cfe3dc" text-anchor="middle">3</text>
<text x="662.90" y="510.33" font-size="8.5" font-weight="normal" font-style="normal" font-family="&quot;Liberation Sans&quot;, sans-serif" fill="#ffe6c4" text-anchor="middle">97</text>
<text x="662.90" y="391.80" font-size="9" font-weight="normal" font-style="normal" font-family="&quot;Liberation Sans&quot;, sans-serif" fill="#333333" text-anchor="middle">3</text>
<line x1="662.90" y1="622.2" x2="662.90" y2="627.5" stroke="#1a1a1a" stroke-width="1.5"/>
<text x="662.90" y="639.30" font-size="10.5" font-weight="normal" font-style="normal" font-family="&quot;Liberation Sans&quot;, sans-serif" fill="#333333" text-anchor="middle">32</text>
<rect x="675.30" y="595.99" width="18.20" height="26.21" fill="#0d93d9"/>
<rect x="675.30" y="586.88" width="18.20" height="9.12" fill="#0a4f40"/>
<rect x="675.30" y="394.30" width="18.20" height="192.58" fill="#ff8b00"/>
<text x="684.40" y="614.60" font-size="8.5" font-weight="normal" font-style="normal" font-family="&quot;Liberation Sans&quot;, sans-serif" fill="#d6eefa" text-anchor="middle">12</text>
<text x="684.40" y="596.93" font-size="8.5" font-weight="normal" font-style="normal" font-family="&quot;Liberation Sans&quot;, sans-serif" fill="#cfe3dc" text-anchor="middle">4</text>
<text x="684.40" y="496.09" font-size="8.5" font-weight="normal" font-style="normal" font-family="&quot;Liberation Sans&quot;, sans-serif" fill="#ffe6c4" text-anchor="middle">85</text>
<text x="684.40" y="391.80" font-size="9" font-weight="normal" font-style="normal" font-family="&quot;Liberation Sans&quot;, sans-serif" fill="#333333" text-anchor="middle">6</text>
<line x1="684.40" y1="622.2" x2="684.40" y2="627.5" stroke="#1a1a1a" stroke-width="1.5"/>
<text x="684.40" y="639.30" font-size="10.5" font-weight="normal" font-style="normal" font-family="&quot;Liberation Sans&quot;, sans-serif" fill="#333333" text-anchor="middle">26</text>
<rect x="696.80" y="394.30" width="18.20" height="227.90" fill="#0a4f40"/>
<text x="705.90" y="513.75" font-size="8.5" font-weight="normal" font-style="normal" font-family="&quot;Liberation Sans&quot;, sans-serif" fill="#cfe3dc" text-anchor="middle">100</text>
<text x="705.90" y="391.80" font-size="9" font-weight="normal" font-style="normal" font-family="&quot;Liberation Sans&quot;, sans-serif" fill="#333333" text-anchor="middle">9</text>
<line x1="705.90" y1="622.2" x2="705.90" y2="627.5" stroke="#1a1a1a" stroke-width="1.5"/>
<text x="705.90" y="639.30" font-size="10.5" font-weight="normal" font-style="normal" font-family="&quot;Liberation Sans&quot;, sans-serif" fill="#333333" text-anchor="middle">2</text>
<rect x="718.30" y="531.04" width="18.20" height="91.16" fill="#0d93d9"/>
<rect x="718.30" y="439.88" width="18.20" height="91.16" fill="#0a4f40"/>
<rect x="718.30" y="394.30" width="18.20" height="45.58" fill="#ff8b00"/>
<text x="727.40" y="582.12" font-size="8.5" font-weight="normal" font-style="normal" font-family="&quot;Liberation Sans&quot;, sans-serif" fill="#d6eefa" text-anchor="middle">40</text>
<text x="727.40" y="490.96" font-size="8.5" font-weight="normal" font-style="normal" font-family="&quot;Liberation Sans&quot;, sans-serif" fill="#cfe3dc" text-anchor="middle">40</text>
<text x="727.40" y="422.59" font-size="8.5" font-weight="normal" font-style="normal" font-family="&quot;Liberation Sans&quot;, sans-serif" fill="#ffe6c4" text-anchor="middle">20</text>
<text x="727.40" y="391.80" font-size="9" font-weight="normal" font-style="normal" font-family="&quot;Liberation Sans&quot;, sans-serif" fill="#333333" text-anchor="middle">12</text>
<line x1="727.40" y1="622.2" x2="727.40" y2="627.5" stroke="#1a1a1a" stroke-width="1.5"/>
<text x="727.40" y="639.30" font-size="10.5" font-weight="normal" font-style="normal" font-family="&quot;Liberation Sans&quot;, sans-serif" fill="#333333" text-anchor="middle">5</text>
<rect x="739.80" y="470.19" width="18.20" height="152.01" fill="#0d93d9"/>
<rect x="739.80" y="432.13" width="18.20" height="38.06" fill="#0a4f40"/>
<rect x="739.80" y="394.30" width="18.20" height="37.83" fill="#ff8b00"/>
<text x="748.90" y="551.70" font-size="8.5" font-weight="normal" font-style="normal" font-family="&quot;Liberation Sans&quot;, sans-serif" fill="#d6eefa" text-anchor="middle">67</text>
<text x="748.90" y="456.66" font-size="8.5" font-weight="normal" font-style="normal" font-family="&quot;Liberation Sans&quot;, sans-serif" fill="#cfe3dc" text-anchor="middle">17</text>
<text x="748.90" y="418.72" font-size="8.5" font-weight="normal" font-style="normal" font-family="&quot;Liberation Sans&quot;, sans-serif" fill="#ffe6c4" text-anchor="middle">17</text>
<text x="748.90" y="391.80" font-size="9" font-weight="normal" font-style="normal" font-family="&quot;Liberation Sans&quot;, sans-serif" fill="#333333" text-anchor="middle">15</text>
<line x1="748.90" y1="622.2" x2="748.90" y2="627.5" stroke="#1a1a1a" stroke-width="1.5"/>
<text x="748.90" y="639.30" font-size="10.5" font-weight="normal" font-style="normal" font-family="&quot;Liberation Sans&quot;, sans-serif" fill="#333333" text-anchor="middle">6</text>
<rect x="761.30" y="470.19" width="18.20" height="152.01" fill="#0d93d9"/>
<rect x="761.30" y="394.30" width="18.20" height="75.89" fill="#0a4f40"/>
<text x="770.40" y="551.70" font-size="8.5" font-weight="normal" font-style="normal" font-family="&quot;Liberation Sans&quot;, sans-serif" fill="#d6eefa" text-anchor="middle">67</text>
<text x="770.40" y="437.75" font-size="8.5" font-weight="normal" font-style="normal" font-family="&quot;Liberation Sans&quot;, sans-serif" fill="#cfe3dc" text-anchor="middle">33</text>
<text x="770.40" y="391.80" font-size="9" font-weight="normal" font-style="normal" font-family="&quot;Liberation Sans&quot;, sans-serif" fill="#333333" text-anchor="middle">18</text>
<line x1="770.40" y1="622.2" x2="770.40" y2="627.5" stroke="#1a1a1a" stroke-width="1.5"/>
<text x="770.40" y="639.30" font-size="10.5" font-weight="normal" font-style="normal" font-family="&quot;Liberation Sans&quot;, sans-serif" fill="#333333" text-anchor="middle">9</text>
<rect x="782.80" y="476.34" width="18.20" height="145.86" fill="#0d93d9"/>
<rect x="782.80" y="414.81" width="18.20" height="61.53" fill="#0a4f40"/>
<rect x="782.80" y="394.30" width="18.20" height="20.51" fill="#ff8b00"/>
<text x="791.90" y="554.77" font-size="8.5" font-weight="normal" font-style="normal" font-family="&quot;Liberation Sans&quot;, sans-serif" fill="#d6eefa" text-anchor="middle">64</text>
<text x="791.90" y="451.08" font-size="8.5" font-weight="normal" font-style="normal" font-family="&quot;Liberation Sans&quot;, sans-serif" fill="#cfe3dc" text-anchor="middle">27</text>
<text x="791.90" y="410.06" font-size="8.5" font-weight="normal" font-style="normal" font-family="&quot;Liberation Sans&quot;, sans-serif" fill="#ffe6c4" text-anchor="middle">9</text>
<text x="791.90" y="391.80" font-size="9" font-weight="normal" font-style="normal" font-family="&quot;Liberation Sans&quot;, sans-serif" fill="#333333" text-anchor="middle">21</text>
<line x1="791.90" y1="622.2" x2="791.90" y2="627.5" stroke="#1a1a1a" stroke-width="1.5"/>
<text x="791.90" y="639.30" font-size="10.5" font-weight="normal" font-style="normal" font-family="&quot;Liberation Sans&quot;, sans-serif" fill="#333333" text-anchor="middle">11</text>
<rect x="804.30" y="455.83" width="18.20" height="166.37" fill="#0d93d9"/>
<rect x="804.30" y="394.30" width="18.20" height="61.53" fill="#0a4f40"/>
<text x="813.40" y="544.52" font-size="8.5" font-weight="normal" font-style="normal" font-family="&quot;Liberation Sans&quot;, sans-serif" fill="#d6eefa" text-anchor="middle">73</text>
<text x="813.40" y="430.57" font-size="8.5" font-weight="normal" font-style="normal" font-family="&quot;Liberation Sans&quot;, sans-serif" fill="#cfe3dc" text-anchor="middle">27</text>
<text x="813.40" y="391.80" font-size="9" font-weight="normal" font-style="normal" font-family="&quot;Liberation Sans&quot;, sans-serif" fill="#333333" text-anchor="middle">24</text>
<line x1="813.40" y1="622.2" x2="813.40" y2="627.5" stroke="#1a1a1a" stroke-width="1.5"/>
<text x="813.40" y="639.30" font-size="10.5" font-weight="normal" font-style="normal" font-family="&quot;Liberation Sans&quot;, sans-serif" fill="#333333" text-anchor="middle">15</text>
<rect x="825.80" y="485.46" width="18.20" height="136.74" fill="#0d93d9"/>
<rect x="825.80" y="394.30" width="18.20" height="91.16" fill="#0a4f40"/>
<text x="834.90" y="559.33" font-size="8.5" font-weight="normal" font-style="normal" font-family="&quot;Liberation Sans&quot;, sans-serif" fill="#d6eefa" text-anchor="middle">60</text>
<text x="834.90" y="445.38" font-size="8.5" font-weight="normal" font-style="normal" font-family="&quot;Liberation Sans&quot;, sans-serif" fill="#cfe3dc" text-anchor="middle">40</text>
<text x="834.90" y="391.80" font-size="9" font-weight="normal" font-style="normal" font-family="&quot;Liberation Sans&quot;, sans-serif" fill="#333333" text-anchor="middle">27</text>
<line x1="834.90" y1="622.2" x2="834.90" y2="627.5" stroke="#1a1a1a" stroke-width="1.5"/>
<text x="834.90" y="639.30" font-size="10.5" font-weight="normal" font-style="normal" font-family="&quot;Liberation Sans&quot;, sans-serif" fill="#333333" text-anchor="middle">10</text>
<rect x="847.30" y="446.72" width="18.20" height="175.48" fill="#0d93d9"/>
<rect x="847.30" y="394.30" width="18.20" height="52.42" fill="#0a4f40"/>
<text x="856.40" y="539.96" font-size="8.5" font-weight="normal" font-style="normal" font-family="&quot;Liberation Sans&quot;, sans-serif" fill="#d6eefa" text-anchor="middle">77</text>
<text x="856.40" y="426.01" font-size="8.5" font-weight="normal" font-style="normal" font-family="&quot;Liberation Sans&quot;, sans-serif" fill="#cfe3dc" text-anchor="middle">23</text>
<text x="856.40" y="391.80" font-size="9" font-weight="normal" font-style="normal" font-family="&quot;Liberation Sans&quot;, sans-serif" fill="#333333" text-anchor="middle">30</text>
<line x1="856.40" y1="622.2" x2="856.40" y2="627.5" stroke="#1a1a1a" stroke-width="1.5"/>
<text x="856.40" y="639.30" font-size="10.5" font-weight="normal" font-style="normal" font-family="&quot;Liberation Sans&quot;, sans-serif" fill="#333333" text-anchor="middle">13</text>
<rect x="868.80" y="451.28" width="18.20" height="170.92" fill="#0d93d9"/>
<rect x="868.80" y="394.30" width="18.20" height="56.97" fill="#0a4f40"/>
<text x="877.90" y="542.24" font-size="8.5" font-weight="normal" font-style="normal" font-family="&quot;Liberation Sans&quot;, sans-serif" fill="#d6eefa" text-anchor="middle">75</text>
<text x="877.90" y="428.29" font-size="8.5" font-weight="normal" font-style="normal" font-family="&quot;Liberation Sans&quot;, sans-serif" fill="#cfe3dc" text-anchor="middle">25</text>
<text x="877.90" y="391.80" font-size="9" font-weight="normal" font-style="normal" font-family="&quot;Liberation Sans&quot;, sans-serif" fill="#333333" text-anchor="middle">33</text>
<line x1="877.90" y1="622.2" x2="877.90" y2="627.5" stroke="#1a1a1a" stroke-width="1.5"/>
<text x="877.90" y="639.30" font-size="10.5" font-weight="normal" font-style="normal" font-family="&quot;Liberation Sans&quot;, sans-serif" fill="#333333" text-anchor="middle">4</text>
<rect x="890.30" y="394.30" width="18.20" height="227.90" fill="#0d93d9"/>
<text x="899.40" y="513.75" font-size="8.5" font-weight="normal" font-style="normal" font-family="&quot;Liberation Sans&quot;, sans-serif" fill="#d6eefa" text-anchor="middle">100</text>
<text x="899.40" y="391.80" font-size="9" font-weight="normal" font-style="normal" font-family="&quot;Liberation Sans&quot;, sans-serif" fill="#333333" text-anchor="middle">36</text>
<line x1="899.40" y1="622.2" x2="899.40" y2="627.5" stroke="#1a1a1a" stroke-width="1.5"/>
<text x="899.40" y="639.30" font-size="10.5" font-weight="normal" font-style="normal" font-family="&quot;Liberation Sans&quot;, sans-serif" fill="#333333" text-anchor="middle">4</text>
<rect x="911.80" y="394.30" width="18.20" height="227.90" fill="#0d93d9"/>
<text x="920.90" y="513.75" font-size="8.5" font-weight="normal" font-style="normal" font-family="&quot;Liberation Sans&quot;, sans-serif" fill="#d6eefa" text-anchor="middle">100</text>
<text x="920.90" y="391.80" font-size="9" font-weight="normal" font-style="normal" font-family="&quot;Liberation Sans&quot;, sans-serif" fill="#333333" text-anchor="middle">39</text>
<line x1="920.90" y1="622.2" x2="920.90" y2="627.5" stroke="#1a1a1a" stroke-width="1.5"/>
<text x="920.90" y="639.30" font-size="10.5" font-weight="normal" font-style="normal" font-family="&quot;Liberation Sans&quot;, sans-serif" fill="#333333" text-anchor="middle">1</text>
<line x1="542.5" y1="388" x2="542.5" y2="623.2" stroke="#1a1a1a" stroke-width="2"/>
<line x1="541.5" y1="622.2" x2="933" y2="622.2" stroke="#1a1a1a" stroke-width="2"/>
<line x1="537" y1="622.20" x2="542.5" y2="622.20" stroke="#1a1a1a" stroke-width="1.5"/>
<text x="533.80" y="625.20" font-size="9.6" font-weight="normal" font-style="normal" font-family="&quot;Liberation Sans&quot;, sans-serif" fill="#333333" text-anchor="end" textLength="5.10" lengthAdjust="spacingAndGlyphs">0</text>
<line x1="537" y1="576.62" x2="542.5" y2="576.62" stroke="#1a1a1a" stroke-width="1.5"/>
<text x="533.80" y="579.62" font-size="9.6" font-weight="normal" font-style="normal" font-family="&quot;Liberation Sans&quot;, sans-serif" fill="#333333" text-anchor="end" textLength="10.20" lengthAdjust="spacingAndGlyphs">20</text>
<line x1="537" y1="531.04" x2="542.5" y2="531.04" stroke="#1a1a1a" stroke-width="1.5"/>
<text x="533.80" y="534.04" font-size="9.6" font-weight="normal" font-style="normal" font-family="&quot;Liberation Sans&quot;, sans-serif" fill="#333333" text-anchor="end" textLength="10.20" lengthAdjust="spacingAndGlyphs">40</text>
<line x1="537" y1="485.46" x2="542.5" y2="485.46" stroke="#1a1a1a" stroke-width="1.5"/>
<text x="533.80" y="488.46" font-size="9.6" font-weight="normal" font-style="normal" font-family="&quot;Liberation Sans&quot;, sans-serif" fill="#333333" text-anchor="end" textLength="10.20" lengthAdjust="spacingAndGlyphs">60</text>
<line x1="537" y1="439.88" x2="542.5" y2="439.88" stroke="#1a1a1a" stroke-width="1.5"/>
<text x="533.80" y="442.88" font-size="9.6" font-weight="normal" font-style="normal" font-family="&quot;Liberation Sans&quot;, sans-serif" fill="#333333" text-anchor="end" textLength="10.20" lengthAdjust="spacingAndGlyphs">80</text>
<line x1="537" y1="394.30" x2="542.5" y2="394.30" stroke="#1a1a1a" stroke-width="1.5"/>
<text x="533.80" y="397.30" font-size="9.6" font-weight="normal" font-style="normal" font-family="&quot;Liberation Sans&quot;, sans-serif" fill="#333333" text-anchor="end" textLength="15.20" lengthAdjust="spacingAndGlyphs">100</text>
<text transform="translate(511.6,598.3) rotate(-90)" x="0" y="0" font-size="12.2" font-family="&quot;Liberation Sans&quot;, sans-serif" fill="#333333" textLength="188.8" lengthAdjust="spacingAndGlyphs">B-cell count in complete responders (%)</text>
<text x="519.75" y="638.75" font-size="10" font-weight="normal" font-style="normal" font-family="&quot;Liberation Sans&quot;, sans-serif" fill="#333333" text-anchor="start" textLength="13.25" lengthAdjust="spacingAndGlyphs">n =</text>
<text x="609.70" y="655.50" font-size="10" font-weight="normal" font-style="normal" font-family="&quot;Liberation Sans&quot;, sans-serif" fill="#333333" text-anchor="start" textLength="27.30" lengthAdjust="spacingAndGlyphs">B cells</text>
<rect x="648.30" y="647.50" width="11.20" height="10.50" fill="#ff8b00"/>
<text x="665.80" y="655.50" font-size="10" font-weight="normal" font-style="normal" font-family="&quot;Liberation Sans&quot;, sans-serif" fill="#333333" text-anchor="start" textLength="47.20" lengthAdjust="spacingAndGlyphs">&lt;5 cells/µL</text>
<rect x="719.20" y="647.50" width="10.80" height="10.50" fill="#0a4f40"/>
<text x="735.50" y="655.50" font-size="10" font-weight="normal" font-style="normal" font-family="&quot;Liberation Sans&quot;, sans-serif" fill="#333333" text-anchor="start" textLength="55.75" lengthAdjust="spacingAndGlyphs">5-70 cells/µL</text>
<rect x="796.25" y="647.50" width="11.75" height="10.50" fill="#0d93d9"/>
<text x="813.75" y="655.50" font-size="10" font-weight="normal" font-style="normal" font-family="&quot;Liberation Sans&quot;, sans-serif" fill="#333333" text-anchor="start" textLength="51.75" lengthAdjust="spacingAndGlyphs">≥70 cells/µL</text>
<rect x="9.5" y="691.2" width="940.5" height="182" fill="#abcff2" stroke="#7a1222" stroke-width="2"/>
<text x="19.5" y="722" font-size="27" font-weight="bold" font-family="&quot;Liberation Sans&quot;, sans-serif" fill="#b0121c" stroke="#b0121c" stroke-width="0.6" textLength="145.50" lengthAdjust="spacingAndGlyphs">Conclusion:</text>
<text x="175.00" y="722.00" font-size="27" font-weight="bold" font-style="normal" font-family="&quot;Liberation Sans&quot;, sans-serif" fill="#1b1b1d" text-anchor="start" textLength="691.25" lengthAdjust="spacingAndGlyphs" stroke="#1b1b1d" stroke-width="0.6">At a median follow-up of 37.4 months, fixed-duration</text>
<text x="19.50" y="755.00" font-size="27" font-weight="bold" font-style="normal" font-family="&quot;Liberation Sans&quot;, sans-serif" fill="#1b1b1d" text-anchor="start" textLength="674.25" lengthAdjust="spacingAndGlyphs" stroke="#1b1b1d" stroke-width="0.6">mosunetuzumab demonstrated high response rates,</text>
<text x="19.50" y="787.00" font-size="27" font-weight="bold" font-style="normal" font-family="&quot;Liberation Sans&quot;, sans-serif" fill="#1b1b1d" text-anchor="start" textLength="705.50" lengthAdjust="spacingAndGlyphs" stroke="#1b1b1d" stroke-width="0.6">durable remissions, and manageable safety in patients</text>
<text x="19.50" y="820.50" font-size="27" font-weight="bold" font-style="normal" font-family="&quot;Liberation Sans&quot;, sans-serif" fill="#1b1b1d" text-anchor="start" textLength="470.00" lengthAdjust="spacingAndGlyphs" stroke="#1b1b1d" stroke-width="0.6">with R/R FL after ≥2 prior therapies.</text>
<text x="19.5" y="861.5" font-size="24" font-style="italic" font-family="&quot;Liberation Sans&quot;, sans-serif" fill="#1b1b1d" textLength="548.00" lengthAdjust="spacingAndGlyphs">Sehn et al. DOI: 10.1182/<tspan font-weight="bold" fill="#b0121c">blood</tspan>.2024025454</text>
<rect x="793.50" y="735.40" width="147.75" height="129.00" fill="#b5141c"/>
<text x="844.20" y="775.50" font-size="37" font-weight="normal" font-style="normal" font-family="&quot;Liberation Serif&quot;, serif" fill="#ffffff" text-anchor="start" textLength="77.60" lengthAdjust="spacingAndGlyphs" stroke="#ffffff" stroke-width="0.9">blood</text>
<circle cx="925.3" cy="751" r="1.4" fill="#f5c0c0"/>
<circle cx="823.6" cy="762.8" r="13.6" fill="none" stroke="#f2a3a3" stroke-width="1.7" stroke-dasharray="1.2 0.6"/>
<circle cx="821.6" cy="762.6" r="9.4" fill="#ffffff"/>
<circle cx="828.1" cy="757.8" r="4.4" fill="#8c1016"/>
<circle cx="828.1" cy="757.8" r="3.4" fill="#ffffff"/>
<circle cx="831.2" cy="763.7" r="2.2" fill="#ffffff"/>
<circle cx="830.6" cy="767.6" r="1.6" fill="#ffffff"/>
<circle cx="835.8" cy="775.7" r="1.8" fill="#f7a8a8"/>
<text x="824.00" y="814.20" font-size="34.5" font-weight="normal" font-style="normal" font-family="&quot;Liberation Sans&quot;, sans-serif" fill="#ffffff" text-anchor="start" textLength="89.50" lengthAdjust="spacingAndGlyphs">Visual</text>
<text x="801.00" y="851.00" font-size="33.5" font-weight="normal" font-style="normal" font-family="&quot;Liberation Sans&quot;, sans-serif" fill="#ffffff" text-anchor="start" textLength="133.70" lengthAdjust="spacingAndGlyphs">Abstract</text>
</svg></body></html>
